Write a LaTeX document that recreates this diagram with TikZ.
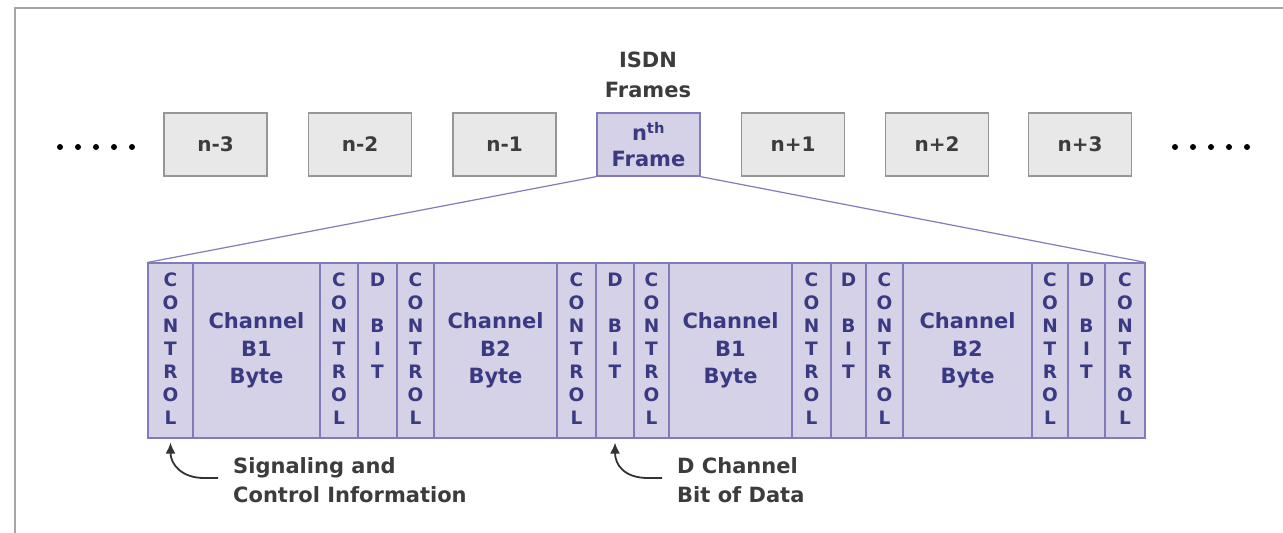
\documentclass[tikz,border=0pt]{standalone}
\usepackage{fontspec}
\setmainfont{DejaVu Sans}
\usetikzlibrary{arrows.meta}
\definecolor{lav}{RGB}{213,209,231}
\definecolor{lavline}{RGB}{128,124,188}
\definecolor{navy}{RGB}{58,58,130}
\definecolor{boxgray}{RGB}{232,232,232}
\definecolor{boxline}{RGB}{150,150,150}
\definecolor{txtgray}{RGB}{60,60,60}
\definecolor{rulegray}{RGB}{165,165,165}
\tikzset{
  framebox/.style={draw=boxline, fill=boxgray, line width=1.3pt, minimum width=103pt, minimum height=63pt, inner sep=0pt,
    text=txtgray, font=\bfseries\fontsize{20}{24}\selectfont},
  nbox/.style={draw=lavline, fill=lav, line width=1.3pt, minimum width=103pt, minimum height=63pt, inner sep=0pt,
    text=navy, align=center, font=\bfseries\fontsize{21}{26}\selectfont},
  colbox/.style={draw=lavline, fill=lav, line width=1.1pt, minimum height=175pt, inner sep=0pt,
    text=navy, align=center},
  vtxt/.style={font=\bfseries\fontsize{18.5}{23}\selectfont},
  htxt/.style={font=\bfseries\fontsize{21}{27.5}\selectfont},
  lbl/.style={text=txtgray, align=left, anchor=west, inner sep=0pt, font=\bfseries\fontsize{21}{29}\selectfont},
  ttl/.style={text=txtgray, align=center, inner sep=0pt, font=\bfseries\fontsize{21}{30}\selectfont},
  zoomline/.style={draw=lavline, line width=1.2pt},
  arr/.style={-{Latex[length=11pt,width=10pt]}, line width=1.8pt, draw=black!80},
  dotmark/.style={circle, fill=black, inner sep=0pt, minimum size=6pt}
}
\newcommand\ctrltxt{\strut C\\\strut O\\\strut N\\\strut T\\\strut R\\\strut O\\\strut L}
\newcommand\dbittxt{\strut D\\\strut\\\strut B\\\strut I\\\strut T\\\strut\\\strut}
\begin{document}
\begin{tikzpicture}[x=1pt,y=-1pt]
\useasboundingbox (0,0) rectangle (1283,533);
\fill[white] (0,0) rectangle (1283,533);
% border
\draw[rulegray, line width=2pt] (15,533) -- (15,8) -- (1283,8);
% title
\node[ttl] (title) at (648,75) {ISDN\\Frames};
% dots
\foreach \x [count=\i] in {60,78,96,114,132} \node[dotmark] (dl\i) at (\x,147) {};
\foreach \x [count=\i] in {1175,1193,1211,1229,1247} \node[dotmark] (dr\i) at (\x,147) {};
% frames
\node[framebox] (fm3) at (215.5,144.5) {n-3};
\node[framebox] (fm2) at (360,144.5) {n-2};
\node[framebox] (fm1) at (504.5,144.5) {n-1};
\node[nbox] (nth) at (648.5,144.5) {n\textsuperscript{th}\\Frame};
\node[framebox] (fp1) at (793,144.5) {n+1};
\node[framebox] (fp2) at (937,144.5) {n+2};
\node[framebox] (fp3) at (1080,144.5) {n+3};
% columns
\node[colbox, vtxt, minimum width=45pt] (c1) at (170.5,350.5) {\ctrltxt};
\node[colbox, htxt, minimum width=127pt] (c2) at (256.5,350.5) {Channel\\B1\\Byte};
\node[colbox, vtxt, minimum width=38pt] (c3) at (339,350.5) {\ctrltxt};
\node[colbox, vtxt, minimum width=39pt] (c4) at (377.5,350.5) {\dbittxt};
\node[colbox, vtxt, minimum width=37pt] (c5) at (415.5,350.5) {\ctrltxt};
\node[colbox, htxt, minimum width=123pt] (c6) at (495.5,350.5) {Channel\\B2\\Byte};
\node[colbox, vtxt, minimum width=39pt] (c7) at (576.5,350.5) {\ctrltxt};
\node[colbox, vtxt, minimum width=38pt] (c8) at (615,350.5) {\dbittxt};
\node[colbox, vtxt, minimum width=35pt] (c9) at (651.5,350.5) {\ctrltxt};
\node[colbox, htxt, minimum width=123pt] (c10) at (730.5,350.5) {Channel\\B1\\Byte};
\node[colbox, vtxt, minimum width=39pt] (c11) at (811.5,350.5) {\ctrltxt};
\node[colbox, vtxt, minimum width=35pt] (c12) at (848.5,350.5) {\dbittxt};
\node[colbox, vtxt, minimum width=37pt] (c13) at (884.5,350.5) {\ctrltxt};
\node[colbox, htxt, minimum width=129pt] (c14) at (967.5,350.5) {Channel\\B2\\Byte};
\node[colbox, vtxt, minimum width=36pt] (c15) at (1050,350.5) {\ctrltxt};
\node[colbox, vtxt, minimum width=37pt] (c16) at (1086.5,350.5) {\dbittxt};
\node[colbox, vtxt, minimum width=40pt] (c17) at (1125,350.5) {\ctrltxt};
% zoom lines
\draw[zoomline] (nth.south west) -- (c1.north west);
\draw[zoomline] (nth.south east) -- (c17.north east);
% labels
\node[lbl] (l1) at (233,480) {Signaling and\\Control Information};
\node[lbl] (l2) at (677,480) {D Channel\\Bit of Data};
\coordinate (s1) at (218,478);
\coordinate (s2) at (662,478);
\draw[arr] (s1) -- ++(-14,0) .. controls +(-22,0) and +(0,22) .. ([yshift=-4pt]c1.south);
\draw[arr] (s2) -- ++(-14,0) .. controls +(-24,0) and +(0,22) .. ([yshift=-4pt]c8.south);
\end{tikzpicture}
\end{document}
